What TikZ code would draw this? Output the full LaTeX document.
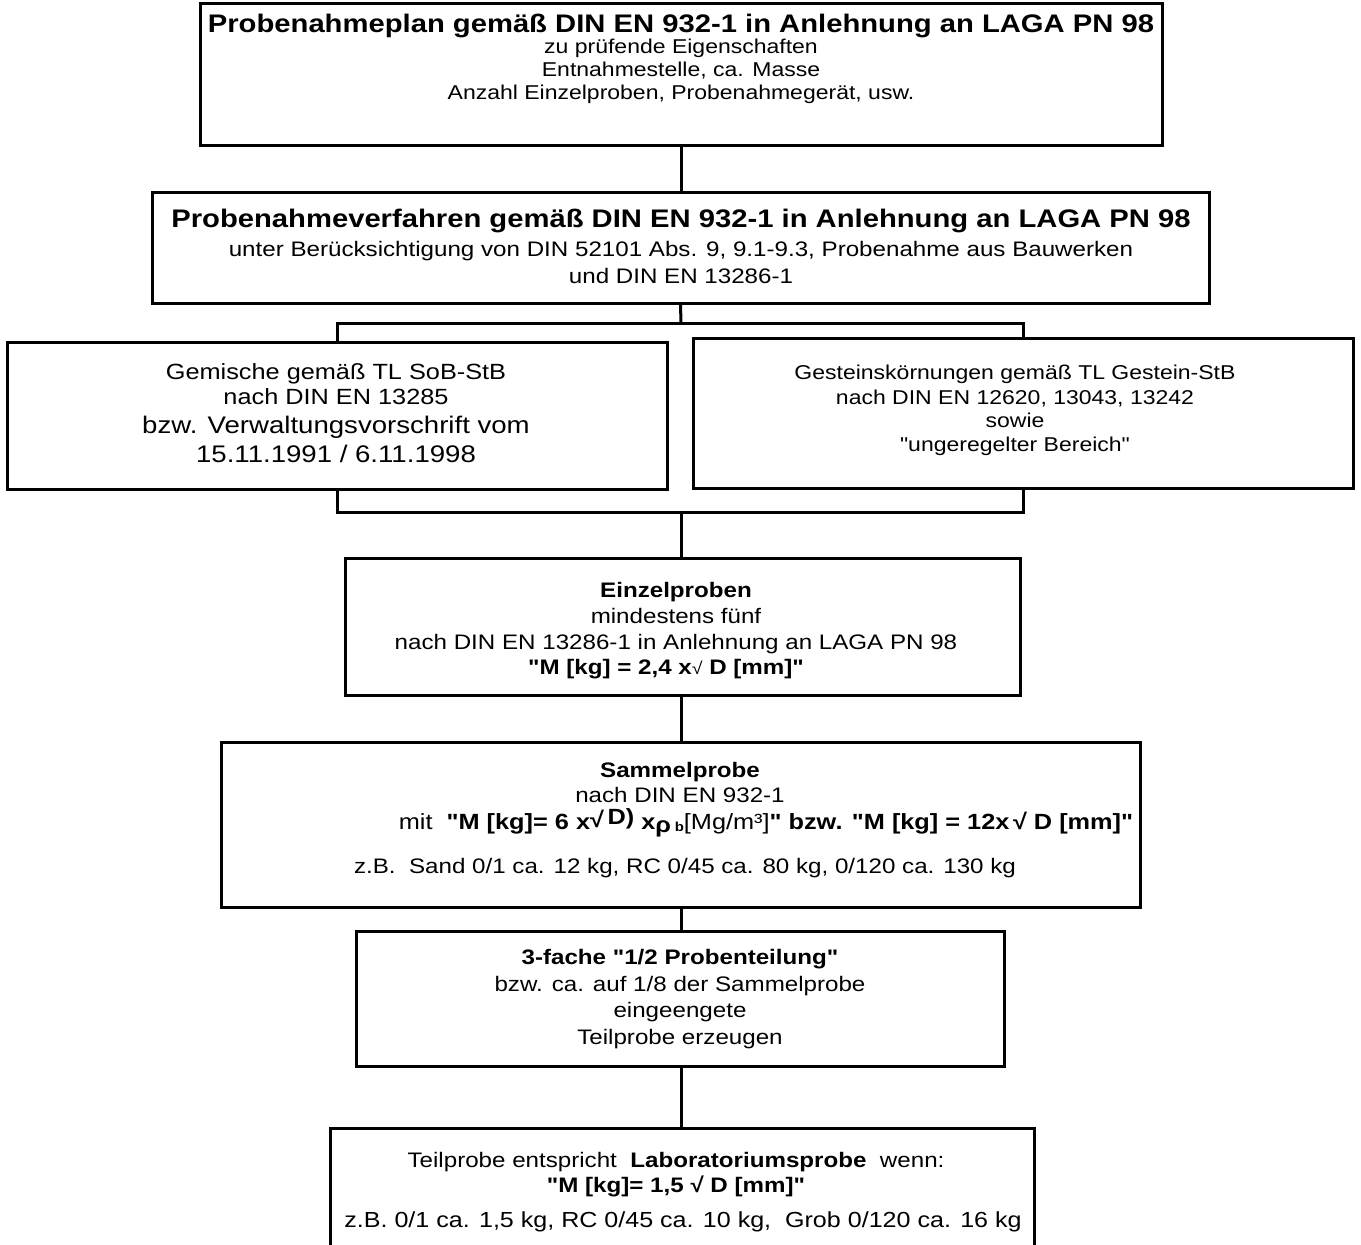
\documentclass[tikz,border=0pt]{standalone}
\usepackage{fontspec}
\setmainfont{Liberation Sans}[FakeStretch=1.15,Ligatures=TeXOff]
\usetikzlibrary{fit}
\newcommand\fsz[1]{\fontsize{#1}{#1}\selectfont}
\tikzset{
  box/.style={draw, line width=3pt, inner sep=0pt},
  conn/.style={line width=3pt},
  txt/.style={inner sep=0pt, anchor=base, font=\fsz{21}},
  sm/.style={txt, font=\fsz{20}},
  mid/.style={txt, font=\fsz{22}},
  big/.style={txt, font=\fsz{24}},
  ttl/.style={txt, font=\fsz{25.4}\bfseries},
  btxt/.style={txt, font=\fsz{21}\bfseries}
}
\begin{document}
\begin{tikzpicture}[x=1pt,y=-1pt]
\useasboundingbox (0,0) rectangle (1361,1245);
\clip (0,0) rectangle (1361,1245);
% boxes
\node[box, fit={(200,3) (1162,145)}] (b1) {};
\node[box, fit={(152,192) (1209,303)}] (b2) {};
\node[box, fit={(7,342) (667,489)}] (bl) {};
\node[box, fit={(693,338) (1353,488)}] (br) {};
\node[box, fit={(345,558) (1020,695)}] (b4) {};
\node[box, fit={(221,742) (1140,907)}] (b5) {};
\node[box, fit={(356,931) (1004,1066)}] (b6) {};
\node[box, fit={(330,1128) (1034,1320)}] (b7) {};
% junctions
\coordinate (s1) at (681,323);
\coordinate (s2) at (681,512);
% connectors
\draw[conn] (b1.south) -- (b1.south |- b2.north);
\draw[conn] (b2.south) -- (s1);
\draw[conn] (bl.north) |- (s1) -| (br.north);
\draw[conn] (bl.south) |- (s2) -| (br.south);
\draw[conn] (s2) -- (s2 |- b4.north);
\draw[conn] (b4.south -| s2) -- (s2 |- b5.north);
\draw[conn] (b5.south -| s2) -- (s2 |- b6.north);
\draw[conn] (b6.south -| s2) -- (s2 |- b7.north);
% box 1
\node[ttl] (t1a) at (681,32) {Probenahmeplan gemäß DIN EN 932-1 in Anlehnung an LAGA PN 98};
\node[sm] (t1b) at (681,53) {zu prüfende Eigenschaften};
\node[sm] (t1c) at (681,76) {Entnahmestelle, ca. Masse};
\node[sm] (t1d) at (681,99) {Anzahl Einzelproben, Probenahmegerät, usw.};
% box 2
\node[ttl] (t2a) at (681,227) {Probenahmeverfahren gemäß DIN EN 932-1 in Anlehnung an LAGA PN 98};
\node[txt] (t2b) at (681,256) {unter Berücksichtigung von DIN 52101 Abs. 9, 9.1-9.3, Probenahme aus Bauwerken};
\node[txt] (t2c) at (681,283) {und DIN EN 13286-1};
% left box
\node[mid] (tla) at (336,379) {Gemische gemäß TL SoB-StB};
\node[mid] (tlb) at (336,404) {nach DIN EN 13285};
\node[big] (tlc) at (336,433) {bzw. Verwaltungsvorschrift vom};
\node[big] (tld) at (336,462) {15.11.1991 / 6.11.1998};
% right box
\node[sm] (tra) at (1015,379) {Gesteinskörnungen gemäß TL Gestein-StB};
\node[sm] (trb) at (1015,404) {nach DIN EN 12620, 13043, 13242};
\node[sm] (trc) at (1015,427) {sowie};
\node[sm] (trd) at (1015,451) {"ungeregelter Bereich"};
% Einzelproben
\node[btxt] (t4a) at (676,597) {Einzelproben};
\node[txt] (t4b) at (676,623) {mindestens fünf};
\node[txt] (t4c) at (676,649) {nach DIN EN 13286-1 in Anlehnung an LAGA PN 98};
\node[txt] (t4d) at (666,674) {\textbf{"M [kg] = 2,4 x}{\fsz{17}√}\textbf{ D [mm]"}};
% Sammelprobe
\node[btxt] (t5a) at (680,777) {Sammelprobe};
\node[txt] (t5b) at (680,802) {nach DIN EN 932-1};
\node[mid] (t5c) at (766,829) {mit\ \ \textbf{"M [kg]= 6 x\raisebox{2pt}{√}\,\raisebox{5pt}{D)} x\raisebox{-3pt}{ρ}\,\raisebox{-2pt}{\fsz{13}b}}[Mg/m³]\textbf{" bzw. "M [kg] = 12x\,√ D [mm]"}};
\node[txt] (t5d) at (685,873) {z.B.\ \ Sand 0/1 ca. 12 kg, RC 0/45 ca. 80 kg, 0/120 ca. 130 kg};
% 3-fache
\node[btxt] (t6a) at (680,964) {3-fache "1/2 Probenteilung"};
\node[txt] (t6b) at (680,991) {bzw. ca. auf 1/8 der Sammelprobe};
\node[txt] (t6c) at (680,1017) {eingeengete};
\node[txt] (t6d) at (680,1044) {Teilprobe erzeugen};
% bottom box
\node[txt] (t7a) at (676,1167) {Teilprobe entspricht\ \ \textbf{Laboratoriumsprobe}\ \ wenn:};
\node[btxt] (t7b) at (676,1192) {"M [kg]= 1,5 √ D [mm]"};
\node[txt, font=\fsz{21.8}] (t7c) at (683,1227) {z.B. 0/1 ca. 1,5 kg, RC 0/45 ca. 10 kg,\ \ Grob 0/120 ca. 16 kg};
\end{tikzpicture}
\end{document}
